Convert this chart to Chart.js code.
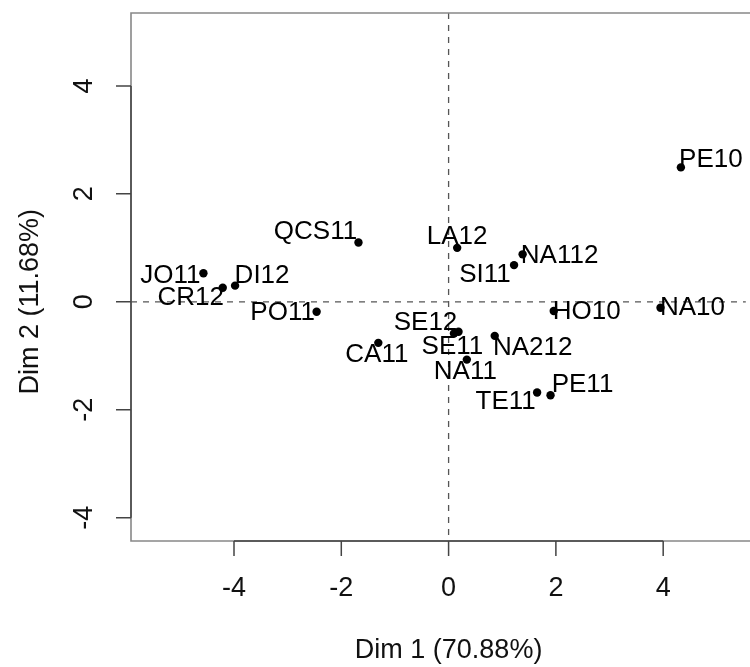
<!DOCTYPE html>
<html>
<head>
<meta charset="utf-8">
<script src="https://cdn.jsdelivr.net/npm/chart.js@4.4.1/dist/chart.umd.min.js"></script>
<style>
html, body { margin: 0; padding: 0; background: #fff; overflow: hidden; }
</style>
</head>
<body>
<canvas id="pcaPlot" width="750" height="667"></canvas>
<script>
// individuals on the first factorial plane
const names = ['PE10', 'QCS11', 'LA12', 'NA112', 'SI11', 'JO11', 'DI12', 'CR12', 'PO11',
               'NA10', 'HO10', 'SE12', 'SE11', 'NA212', 'CA11', 'NA11', 'TE11', 'PE11'];
const dim1 = [4.33, -1.68, 0.16, 1.38, 1.22, -4.57, -3.98, -4.21, -2.46,
              3.95, 1.96, 0.185, 0.10, 0.86, -1.31, 0.34, 1.65, 1.90];
const dim2 = [2.49, 1.10, 1.00, 0.88, 0.68, 0.53, 0.30, 0.26, -0.185,
              -0.11, -0.17, -0.555, -0.585, -0.63, -0.76, -1.07, -1.68, -1.73];
const axisTicks = [-4, -2, 0, 2, 4];
const dim1Title = 'Dim 1 (70.88%)';
const dim2Title = 'Dim 2 (11.68%)';

// label placement around each point (px), so the names don't collide
const labelShift = [[30, -8], [-43, -11], [0, -11], [37, 2], [-29, 10], [-33, 3], [27, -10], [-32, 10], [-34, 1],
                    [32, 0], [33, 1], [-33, -9], [-1.5, 13], [38, 12], [-1.5, 12], [-1.5, 12], [-31.5, 9], [32, -10]];

const FONT = '"Liberation Sans", Arial, Helvetica, sans-serif';

const rAxes = {
    id: 'rAxes',
    beforeDatasetsDraw(chart) {
        const {ctx, chartArea: a, scales: {x, y}} = chart;
        ctx.save();
        ctx.strokeStyle = '#555';
        ctx.lineWidth = 1.3;
        ctx.setLineDash([6, 6]);
        const y0 = y.getPixelForValue(0), x0 = x.getPixelForValue(0);
        ctx.beginPath();
        ctx.moveTo(a.left, y0); ctx.lineTo(a.right, y0);
        ctx.moveTo(x0, a.top); ctx.lineTo(x0, a.bottom);
        ctx.stroke();
        ctx.restore();
    },
    afterDatasetsDraw(chart) {
        const {ctx, chartArea: a, scales: {x, y}} = chart;
        ctx.save();

        // box (right side runs off the canvas)
        ctx.strokeStyle = '#888';
        ctx.lineWidth = 1.6;
        ctx.beginPath();
        ctx.moveTo(a.right + 5, a.top);
        ctx.lineTo(a.left, a.top);
        ctx.lineTo(a.left, a.bottom);
        ctx.lineTo(a.right + 5, a.bottom);
        ctx.stroke();

        // axis lines and ticks
        const tFirst = axisTicks[0], tLast = axisTicks[axisTicks.length - 1];
        ctx.strokeStyle = '#444';
        ctx.lineWidth = 1.5;
        ctx.beginPath();
        ctx.moveTo(x.getPixelForValue(tFirst), a.bottom);
        ctx.lineTo(x.getPixelForValue(tLast), a.bottom);
        ctx.moveTo(a.left, y.getPixelForValue(tFirst));
        ctx.lineTo(a.left, y.getPixelForValue(tLast));
        axisTicks.forEach(t => {
            const px = x.getPixelForValue(t), py = y.getPixelForValue(t);
            ctx.moveTo(px, a.bottom); ctx.lineTo(px, a.bottom + 15);
            ctx.moveTo(a.left, py); ctx.lineTo(a.left - 15, py);
        });
        ctx.stroke();

        // tick labels
        ctx.fillStyle = '#111';
        ctx.font = '27px ' + FONT;
        ctx.textAlign = 'center';
        ctx.textBaseline = 'middle';
        axisTicks.forEach(t => {
            ctx.fillText(String(t), x.getPixelForValue(t), a.bottom + 48);
            ctx.save();
            ctx.translate(a.left - 46, y.getPixelForValue(t));
            ctx.rotate(-Math.PI / 2);
            ctx.fillText(String(t), 0, 0);
            ctx.restore();
        });

        // axis titles
        ctx.fillText(dim1Title, x.getPixelForValue(0), a.bottom + 110);
        ctx.save();
        ctx.translate(a.left - 100, y.getPixelForValue(0));
        ctx.rotate(-Math.PI / 2);
        ctx.fillText(dim2Title, 0, 0);
        ctx.restore();

        // point names
        ctx.fillStyle = '#000';
        ctx.font = '26px ' + FONT;
        names.forEach((n, i) => {
            const px = x.getPixelForValue(dim1[i]) + labelShift[i][0];
            const py = y.getPixelForValue(dim2[i]) + labelShift[i][1];
            ctx.fillText(n, px, py);
        });
        ctx.restore();
    }
};

new Chart(document.getElementById('pcaPlot'), {
    type: 'scatter',
    data: {
        datasets: [{
            data: names.map((n, i) => ({x: dim1[i], y: dim2[i]})),
            pointRadius: 4.2,
            pointBackgroundColor: '#000',
            pointBorderWidth: 0,
            pointHoverRadius: 4.2
        }]
    },
    options: {
        responsive: false,
        animation: false,
        events: [],
        layout: {padding: {left: 131, top: 13, right: 0, bottom: 126}},
        plugins: {legend: {display: false}, tooltip: {enabled: false}},
        scales: {
            x: {type: 'linear', display: false, min: -5.92, max: 5.54},
            y: {type: 'linear', display: false, min: -4.43, max: 5.35}
        }
    },
    plugins: [rAxes]
});
</script>
</body>
</html>
